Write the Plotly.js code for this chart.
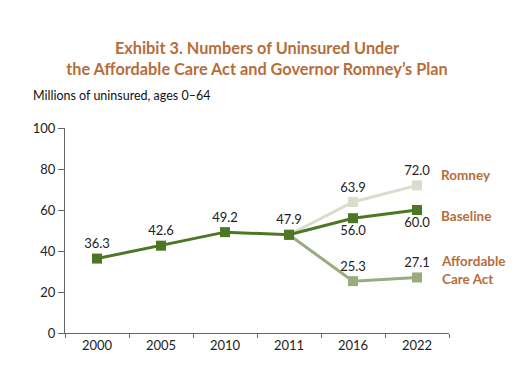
<!DOCTYPE html>
<html>
<head>
<meta charset="utf-8">
<script src="https://cdn.plot.ly/plotly-3.0.1.min.js"></script>
<style>html,body{margin:0;padding:0;background:#fff;}#chart{width:520px;height:369px;}</style>
</head>
<body>
<div id="chart"></div>
<script>
const years = ['2000', '2005', '2010', '2011', '2016', '2022'];
const baseline = [36.3, 42.6, 49.2, 47.9, 56.0, 60.0];
const romneyYears = ['2011', '2016', '2022'];
const romney = [47.9, 63.9, 72.0];
const acaYears = ['2011', '2016', '2022'];
const aca = [47.9, 25.3, 27.1];
const seriesNames = ['Romney', 'Baseline', 'Affordable<br>Care Act'];
const seriesLabelY = [77.2, 57.1, 30.7];

const FONT = 'Lato, "DejaVu Sans Condensed", sans-serif';
const ORANGE = '#b56e3b';
const fmt = v => v.toFixed(1);

const traces = [
  {
    x: romneyYears, y: romney, type: 'scatter', mode: 'lines+markers+text',
    line: {color: '#d8ddcc', width: 3},
    marker: {symbol: 'square', size: 10, color: '#d8ddcc'},
    text: romney.map((v, i) => i === 0 ? '' : fmt(v)),
    textposition: 'top center', textfont: {family: FONT, size: 13, color: '#222'},
    hoverinfo: 'none', cliponaxis: false
  },
  {
    x: acaYears, y: aca, type: 'scatter', mode: 'lines+markers+text',
    line: {color: '#9aab80', width: 3},
    marker: {symbol: 'square', size: 10, color: '#9aab80'},
    text: aca.map((v, i) => i === 0 ? '' : fmt(v)),
    textposition: 'top center', textfont: {family: FONT, size: 13, color: '#222'},
    hoverinfo: 'none', cliponaxis: false
  },
  {
    x: years, y: baseline, type: 'scatter', mode: 'lines+markers+text',
    line: {color: '#4d7724', width: 3},
    marker: {symbol: 'square', size: 10, color: '#4d7724'},
    text: baseline.map(fmt),
    textposition: ['top center', 'top center', 'top center', 'top center', 'bottom center', 'bottom center'],
    textfont: {family: FONT, size: 13, color: '#222'},
    hoverinfo: 'none', cliponaxis: false
  }
];

const annotations = seriesNames.map((n, i) => ({
  text: n, xref: 'paper', x: 0.982, xanchor: 'left', xshift: -3, yref: 'y', y: seriesLabelY[i], yanchor: 'middle',
  showarrow: false, align: 'left', font: {family: FONT, size: 13.5, color: ORANGE, weight: 'bold'}
}));
annotations.push({
  text: 'Millions of uninsured, ages 0–64', xref: 'paper', x: -0.088, xanchor: 'left',
  yref: 'paper', y: 1.158, yanchor: 'middle', showarrow: false,
  font: {family: FONT, size: 12.5, color: '#111'}
});

const layout = {
  width: 520, height: 369,
  margin: {l: 65, r: 71, t: 128, b: 36},
  paper_bgcolor: '#fff', plot_bgcolor: '#fff',
  showlegend: false,
  font: {family: FONT, color: '#222'},
  title: {
    text: 'Exhibit 3. Numbers of Uninsured Under<br>the Affordable Care Act and Governor Romney’s Plan',
    font: {family: FONT, size: 16.3, color: ORANGE, weight: 'bold'},
    x: 0.5, xanchor: 'center', xref: 'paper', y: 1 - 54 / 369, yanchor: 'top'
  },
  xaxis: {
    type: 'category', categoryorder: 'array', categoryarray: years,
    range: [-0.5, 5.5], showline: true, linecolor: '#666', linewidth: 1,
    ticks: 'outside', tickson: 'boundaries', ticklen: 4, tickcolor: '#666',
    showgrid: false, zeroline: false, fixedrange: true,
    tickfont: {family: FONT, size: 13, color: '#222'}
  },
  yaxis: {
    range: [0, 100], dtick: 20, showline: true, linecolor: '#666', linewidth: 1,
    ticks: 'outside', ticklen: 6, tickcolor: '#666',
    showgrid: false, zeroline: false, fixedrange: true,
    tickfont: {family: FONT, size: 13, color: '#222'}
  },
  annotations: annotations
};

Plotly.newPlot('chart', traces, layout, {displayModeBar: false, staticPlot: true});
</script>
</body>
</html>
